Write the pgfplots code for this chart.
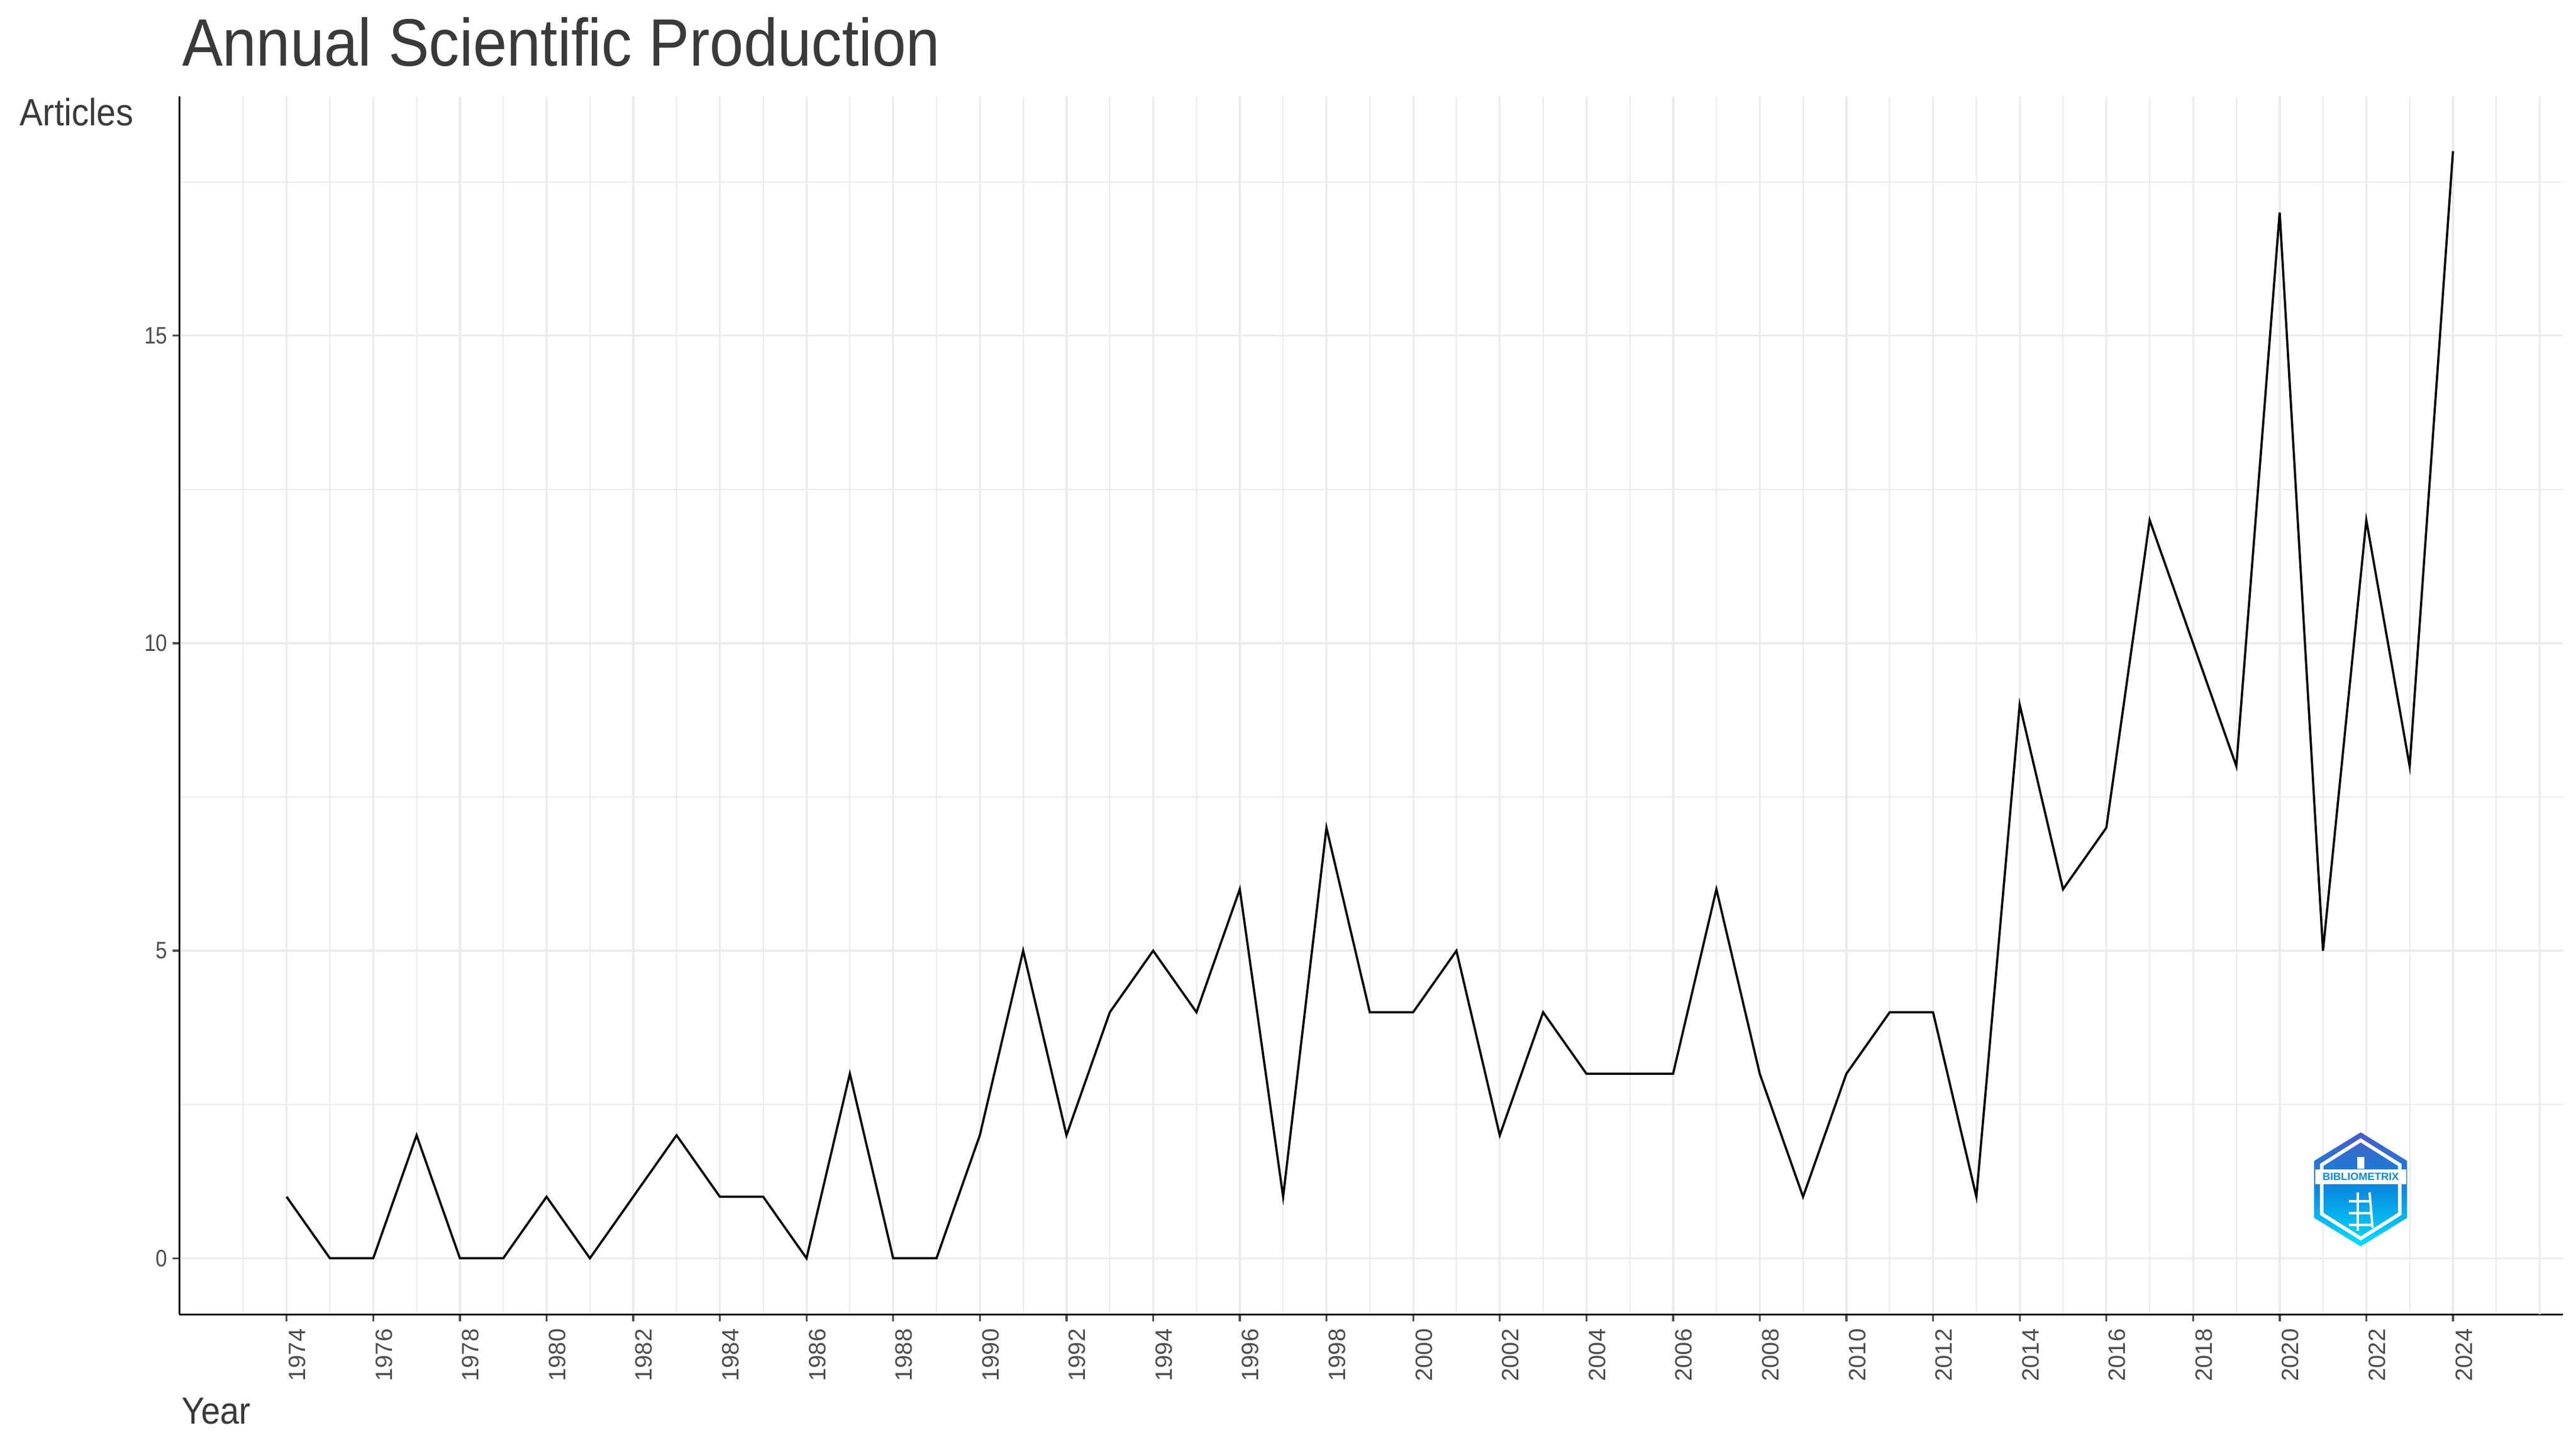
\documentclass[border=0pt]{standalone}
\usepackage{pgfplots}
\usepackage{pgfplotstable}
\pgfplotsset{compat=1.18}
\usepackage{fontspec}
\setmainfont{Liberation Sans}
\definecolor{gridc}{HTML}{EBEBEB}
\definecolor{txtc}{HTML}{3A3A3A}
\definecolor{tickc}{HTML}{4D4D4D}
\definecolor{logotop}{HTML}{4A5CC4}
\definecolor{logomid}{HTML}{0A8AE0}
\definecolor{logobot}{HTML}{00E0FF}

\pgfplotstableread{
year n
1974 1
1975 0
1976 0
1977 2
1978 0
1979 0
1980 1
1981 0
1982 1
1983 2
1984 1
1985 1
1986 0
1987 3
1988 0
1989 0
1990 2
1991 5
1992 2
1993 4
1994 5
1995 4
1996 6
1997 1
1998 7
1999 4
2000 4
2001 5
2002 2
2003 4
2004 3
2005 3
2006 3
2007 6
2008 3
2009 1
2010 3
2011 4
2012 4
2013 1
2014 9
2015 6
2016 7
2017 12
2018 10
2019 8
2020 17
2021 5
2022 12
2023 8
2024 18
}\datatable

\begin{document}
\begin{tikzpicture}
\path[use as bounding box] (0,0) rectangle (871.4pt,486.6pt);
\begin{axis}[
  at={(60.6pt,42pt)}, anchor=south west,
  width=806.4pt, height=412pt, scale only axis,
  xmin=1971.52, xmax=2026.54, ymin=-0.91, ymax=18.89,
  axis x line*=bottom, axis y line*=left,
  axis line style={black, line width=0.6pt},
  xtick={1974,1976,...,2024},
  minor xtick={1973,1975,...,2025},
  extra x ticks={2026}, extra x tick labels={},
  extra x tick style={major tick length=0pt, grid=major},
  ytick={0,5,10,15}, minor ytick={2.5,7.5,12.5,17.5},
  grid=both,
  major grid style={gridc, line width=0.65pt},
  minor grid style={gridc, line width=0.4pt},
  tick align=outside, major tick length=2.3pt, minor tick length=0pt,
  tick style={color=tickc, line width=0.65pt},
  xticklabel style={rotate=90, anchor=north east, font=\fontsize{8}{8}\selectfont, text=tickc, inner ysep=0.6pt, inner xsep=2.4pt},
  yticklabel style={font=\fontsize{7}{7}\selectfont, text=tickc, inner sep=1.5pt},
  /pgf/number format/assume math mode=true,
  /pgf/number format/1000 sep={},
  yticklabel={\scalebox{1}[1.15]{\pgfmathprintnumber{\tick}}},
]
\addplot[black, line width=0.75pt, mark=none] table[x=year, y=n] {\datatable};
\coordinate (logo) at (axis cs:2021.87,1.12);
\end{axis}

% title and axis titles
\node[anchor=base west, inner sep=0pt, text=txtc, font=\fontsize{20.6}{21}\selectfont] at (61.4pt,464.3pt) {\scalebox{1}[1.1]{Annual Scientific Production}};
\node[anchor=base west, inner sep=0pt, text=txtc, font=\fontsize{11.7}{12}\selectfont] at (6.5pt,444pt) {\scalebox{1}[1.1]{Articles}};
\node[anchor=base west, inner sep=0pt, text=txtc, font=\fontsize{11.6}{12}\selectfont] at (61.2pt,5pt) {\scalebox{1}[1.1]{Year}};

% logo
\begin{scope}[shift={(logo)}]
  \shade[top color=logotop, bottom color=logobot, middle color=logomid]
    (0,19.3pt) -- (15.7pt,9.65pt) -- (15.7pt,-9.65pt) -- (0,-19.3pt) -- (-15.7pt,-9.65pt) -- (-15.7pt,9.65pt) -- cycle;
  \draw[white, line width=1.2pt]
    (0,16.6pt) -- (13.2pt,8.3pt) -- (13.2pt,-8.3pt) -- (0,-16.6pt) -- (-13.2pt,-8.3pt) -- (-13.2pt,8.3pt) -- cycle;
  \fill[white] (-15.4pt,1.7pt) rectangle (15.4pt,6.7pt);
  \node[inner sep=0pt, text=logomid, font=\fontsize{3.6}{4}\bfseries\selectfont] at (0,4.2pt) {BIBLIOMETRIX};
  \fill[white] (-1.2pt,7pt) rectangle (1.2pt,11pt);
  \draw[white, line width=0.8pt] (-1pt,-1pt) -- (-1pt,-14pt) (3pt,-1pt) -- (4pt,-13pt)
    (-4pt,-4pt) -- (3.5pt,-4pt) (-4pt,-8pt) -- (3.8pt,-8pt) (-4pt,-12pt) -- (4pt,-12pt);
\end{scope}
\end{tikzpicture}
\end{document}
